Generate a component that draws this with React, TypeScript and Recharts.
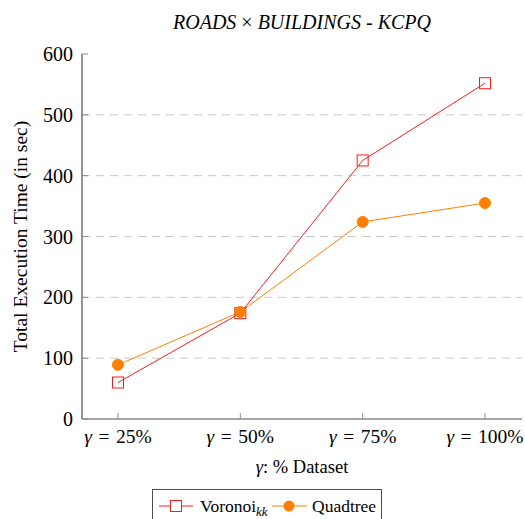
import React from 'react';
import { LineChart, Line, XAxis, YAxis, CartesianGrid } from 'recharts';

const categories = ['25%', '50%', '75%', '100%'];
const voronoiTimes = [60, 174, 425, 552];
const quadtreeTimes = [89, 176, 324, 355];
const yTicks = [0, 100, 200, 300, 400, 500, 600];

const data = categories.map((c, i) => ({
  pct: c,
  voronoi: voronoiTimes[i],
  quadtree: quadtreeTimes[i],
}));

const FONT = '"Liberation Serif"';
const FRAME = '#4d4d4d';
const TICK = '#8c8c8c';
const RED = '#ff1a1a';
const ORANGE = '#ff8000';

const BottomTick = (props: any) => {
  const { x, y, payload } = props;
  return (
    <g>
      <line x1={x} y1={y} x2={x} y2={y - 6} stroke={TICK} strokeWidth={1} />
      <text x={x} y={y + 24} textAnchor="middle" fontFamily={FONT} fontSize={19.5} fill="#000">
        <tspan fontStyle="italic">γ</tspan>
        <tspan dx={6.5}>=</tspan>
        <tspan dx={6.5}>{payload.value}</tspan>
      </text>
    </g>
  );
};

const TopTick = (props: any) => {
  const { x, y } = props;
  return <line x1={x} y1={y} x2={x} y2={y + 6} stroke={TICK} strokeWidth={1} />;
};

const LeftTick = (props: any) => {
  const { x, y, payload } = props;
  return (
    <g>
      <line x1={x} y1={y} x2={x + 6} y2={y} stroke={TICK} strokeWidth={1} />
      <text x={x - 9} y={y + 7} textAnchor="end" fontFamily={FONT} fontSize={20} fill="#000">
        {payload.value}
      </text>
    </g>
  );
};

const RightTick = (props: any) => {
  const { x, y } = props;
  return <line x1={x} y1={y} x2={x - 6} y2={y} stroke={TICK} strokeWidth={1} />;
};

const SquareDot = (props: any) => {
  const { cx, cy } = props;
  if (cx == null || cy == null) return null;
  return <rect x={cx - 5.5} y={cy - 5.5} width={11} height={11} fill="none" stroke={RED} strokeWidth={1} />;
};

const CircleDot = (props: any) => {
  const { cx, cy } = props;
  if (cx == null || cy == null) return null;
  return <circle cx={cx} cy={cy} r={5.5} fill={ORANGE} stroke={ORANGE} strokeWidth={1} />;
};

const YLabel = (props: any) => {
  const { viewBox } = props;
  const cx = viewBox.x - 2;
  const cy = viewBox.y + viewBox.height / 2;
  return (
    <text
      x={cx}
      y={cy}
      transform={`rotate(-90, ${cx}, ${cy})`}
      textAnchor="middle"
      dominantBaseline="central"
      fontFamily={FONT}
      fontSize={19.5}
      fill="#000"
    >
      Total Execution Time (in sec)
    </text>
  );
};

const XLabel = (props: any) => {
  const { viewBox } = props;
  const cx = viewBox.x + viewBox.width / 2;
  return (
    <text x={cx} y={viewBox.y + 54} textAnchor="middle" fontFamily={FONT} fontSize={18.5} fill="#000">
      <tspan fontStyle="italic">γ</tspan>
      <tspan>: % Dataset</tspan>
    </text>
  );
};

const LegendBox = () => (
  <div
    style={{
      position: 'absolute',
      left: 152,
      top: 489,
      width: 230,
      height: 36,
      border: `1px solid ${FRAME}`,
      boxSizing: 'border-box',
      background: '#fff',
    }}
  >
    <svg width={230} height={36} style={{ position: 'absolute', left: 0, top: 0 }}>
      <line x1={6} y1={16} x2={40} y2={16} stroke={RED} strokeWidth={1} />
      <rect x={17.5} y={10.5} width={11} height={11} fill="#fff" stroke={RED} strokeWidth={1} />
      <text x={47} y={21.5} fontFamily={FONT} fontSize={17.5} fill="#000">
        Voronoi
        <tspan fontStyle="italic" fontSize={13} dy={4}>kk</tspan>
      </text>
      <line x1={119} y1={16} x2={154} y2={16} stroke={ORANGE} strokeWidth={1} />
      <circle cx={136} cy={16} r={5.5} fill={ORANGE} />
      <text x={159} y={21.5} fontFamily={FONT} fontSize={17.5} fill="#000">
        Quadtree
      </text>
    </svg>
  </div>
);

export default function App() {
  return (
    <div style={{ position: 'absolute', left: 0, top: 0, width: 525, height: 519, background: '#fff' }}>
      <div
        style={{
          position: 'absolute',
          left: 82,
          width: 440,
          top: 8,
          textAlign: 'center',
          fontFamily: FONT,
          fontSize: 20,
          lineHeight: '28px',
          whiteSpace: 'nowrap',
        }}
      >
        <i>ROADS</i>&nbsp;×&nbsp;<i>BUILDINGS</i> - <i>KCPQ</i>
      </div>
      <LineChart
        width={525}
        height={519}
        data={data}
        margin={{ top: 54, right: 3, bottom: 70, left: 22 }}
      >
        <CartesianGrid
          horizontal={true}
          vertical={false}
          stroke="#c8c8c8"
          strokeDasharray="8 6"
          horizontalValues={[100, 200, 300, 400, 500]}
        />
        <XAxis
          dataKey="pct"
          xAxisId={0}
          height={30}
          padding={{ left: 36, right: 37 }}
          tickSize={0}
          tickMargin={0}
          tickLine={false}
          axisLine={{ stroke: FRAME, strokeWidth: 1.2 }}
          tick={<BottomTick />}
          interval={0}
          label={<XLabel />}
        />
        <XAxis
          dataKey="pct"
          xAxisId="top"
          orientation="top"
          height={0}
          padding={{ left: 36, right: 37 }}
          tickSize={0}
          tickMargin={0}
          tickLine={false}
          axisLine={{ stroke: FRAME, strokeWidth: 1.2 }}
          tick={<TopTick />}
          interval={0}
        />
        <YAxis
          yAxisId={0}
          width={60}
          domain={[0, 600]}
          ticks={yTicks}
          tickSize={0}
          tickMargin={0}
          tickLine={false}
          axisLine={{ stroke: FRAME, strokeWidth: 1.2 }}
          tick={<LeftTick />}
          interval={0}
          label={<YLabel />}
        />
        <YAxis
          yAxisId="right"
          orientation="right"
          width={0}
          domain={[0, 600]}
          ticks={yTicks}
          tickSize={0}
          tickMargin={0}
          tickLine={false}
          axisLine={{ stroke: FRAME, strokeWidth: 1.2 }}
          tick={<RightTick />}
          interval={0}
        />
        <Line
          dataKey="voronoi"
          name="Voronoi"
          stroke={RED}
          strokeWidth={1}
          dot={<SquareDot />}
          activeDot={false}
          isAnimationActive={false}
        />
        <Line
          dataKey="quadtree"
          name="Quadtree"
          stroke={ORANGE}
          strokeWidth={1}
          dot={<CircleDot />}
          activeDot={false}
          isAnimationActive={false}
        />
      </LineChart>
      <LegendBox />
    </div>
  );
}
